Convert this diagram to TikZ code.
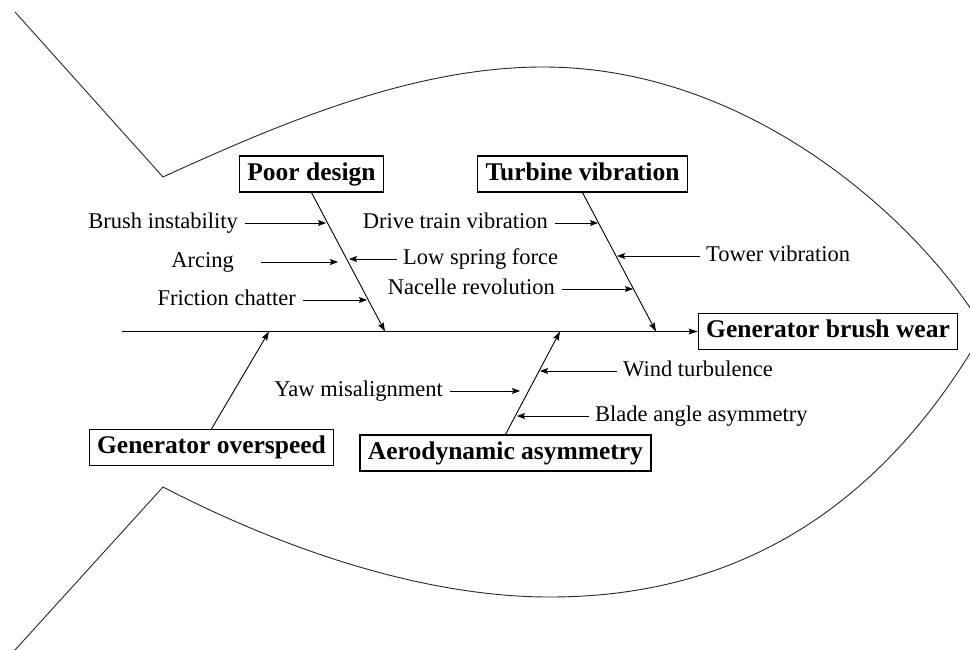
\documentclass[tikz,border=0pt]{standalone}
\usepackage{fontspec}
\setmainfont{Liberation Serif}
\usetikzlibrary{arrows.meta,calc}

\begin{document}
\begin{tikzpicture}[x=1pt,y=-1pt,
  outline/.style={line width=0.9pt, draw=black!85},
  cause/.style={draw, line width=1.2pt, font=\fontsize{25.5}{30}\selectfont\bfseries,
    inner xsep=8pt, inner ysep=6pt, text height=18pt, text depth=6pt},
  lbl/.style={font=\fontsize{22.5}{26}\selectfont, inner sep=0pt,
    text height=15pt, text depth=5pt},
  bone/.style={line width=0.9pt, -{Stealth[length=9pt,width=6pt,inset=1.5pt]}},
  twig/.style={line width=0.9pt, -{Stealth[length=8pt,width=6pt,inset=1.5pt]}, shorten <=7pt},
]
\useasboundingbox (0,0) rectangle (970,651);

% fish body and tail
\begin{scope}
  \clip (0,0) rectangle (970,651);
  \draw[outline] (15,12) -- (163,177)
    .. controls (281,123) and (413,67) .. (543,67)
    .. controls (760,67) and (929,234) .. (984,330)
    .. controls (904,469) and (775,597) .. (550,597)
    .. controls (420,597) and (279,547) .. (163,487)
    -- (15,650);
\end{scope}

% effect and main causes
\node[cause] (gbw) at (828,331.5) {Generator brush wear};
\node[cause] (pd)  at (311.5,174) {Poor design};
\node[cause] (tv)  at (582.5,174) {Turbine vibration};
\node[cause] (go)  at (211.5,447.5) {Generator overspeed};
\node[cause] (aa)  at (505.5,453) {Aerodynamic asymmetry};

% spine
\coordinate (tail) at (122,331.5);
\draw[bone] (tail) -- (gbw.west);

% points where the main bones meet the spine
\coordinate (pdEnd) at (385,331.5);
\coordinate (tvEnd) at (656,331.5);
\coordinate (goEnd) at (269,331.5);
\coordinate (aaEnd) at (560,331.5);

\draw[bone] (pd.south) -- (pdEnd);
\draw[bone] (tv.south) -- (tvEnd);
\draw[bone] (go.north) -- (goEnd);
\draw[bone] (aa.north) -- (aaEnd);

% sub-causes
\node[lbl, anchor=east] (bi)  at (238,223) {Brush instability};
\node[lbl, anchor=east] (arc) at (234,262) {Arcing};
\node[lbl, anchor=east] (fc)  at (296,300) {Friction chatter};
\node[lbl, anchor=west] (lsf) at (403,259) {Low spring force};
\node[lbl, anchor=east] (dtv) at (548,223) {Drive train vibration};
\node[lbl, anchor=east] (nr)  at (555,289) {Nacelle revolution};
\node[lbl, anchor=west] (twv) at (706,256) {Tower vibration};
\node[lbl, anchor=west] (wt)  at (623,371) {Wind turbulence};
\node[lbl, anchor=east] (ym)  at (443,391) {Yaw misalignment};
\node[lbl, anchor=west] (baa) at (595,416) {Blade angle asymmetry};

% arrow tips on the bones
\coordinate (biTip)  at (326,223);
\coordinate (arcTip) at (338,262);
\coordinate (fcTip)  at (367,300);
\coordinate (lsfTip) at (349,259);
\coordinate (dtvTip) at (598,223);
\coordinate (nrTip)  at (633,289);
\coordinate (twvTip) at (617,256);
\coordinate (wtTip)  at (540,371);
\coordinate (ymTip)  at (520,391);
\coordinate (baaTip) at (517,416);

\draw[twig] (bi.east)  -- (biTip);
\draw[twig, shorten <=27pt] (arc.east) -- (arcTip);
\draw[twig] (fc.east)  -- (fcTip);
\draw[twig, shorten <=6pt] (lsf.west) -- (lsfTip);
\draw[twig] (dtv.east) -- (dtvTip);
\draw[twig] (nr.east)  -- (nrTip);
\draw[twig, shorten <=6pt] (twv.west) -- (twvTip);
\draw[twig, shorten <=6pt] (wt.west)  -- (wtTip);
\draw[twig] (ym.east)  -- (ymTip);
\draw[twig, shorten <=6pt] (baa.west) -- (baaTip);
\end{tikzpicture}
\end{document}
